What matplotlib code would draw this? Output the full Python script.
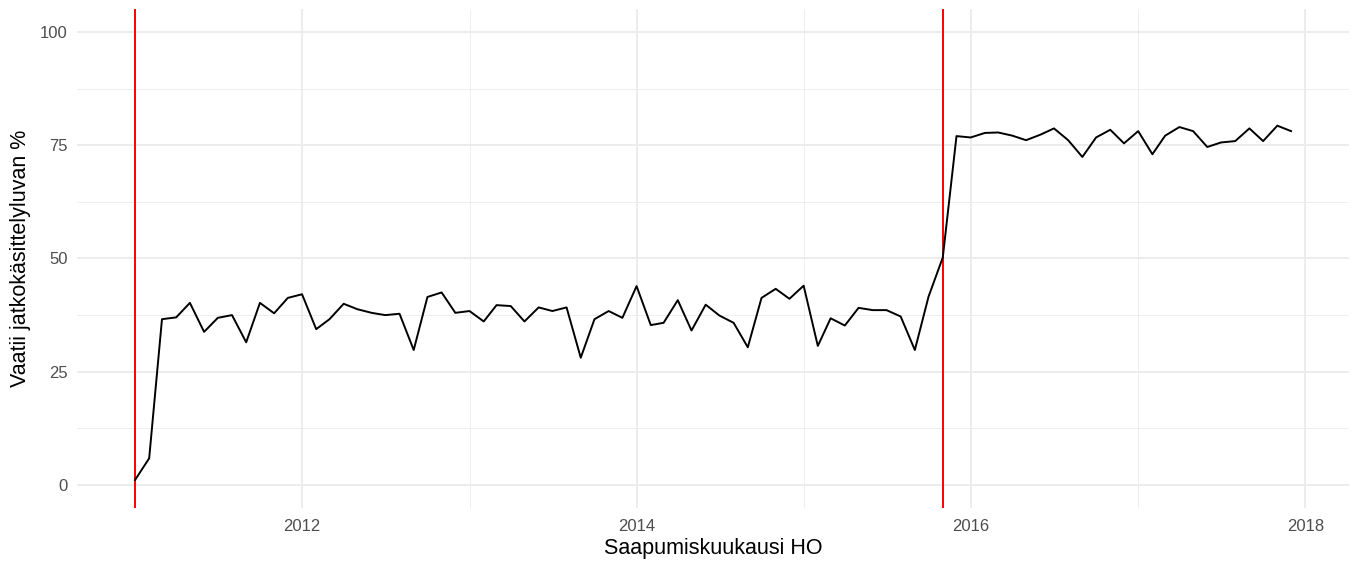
import numpy as np
import pandas as pd
import matplotlib
matplotlib.use('Agg')
import matplotlib.pyplot as plt
import matplotlib.dates as mdates

plt.rcParams['font.family'] = ['Liberation Sans', 'DejaVu Sans']

# kuukausittaiset osuudet 2011-01 ... 2017-12
months = pd.date_range('2011-01-01', '2017-12-01', freq='MS')
share = [
    1.1, 5.9, 36.6, 37.0, 40.2, 33.8, 36.9, 37.5, 31.5, 40.2, 37.9, 41.3,   # 2011
    42.1, 34.4, 36.6, 40.0, 38.8, 38.0, 37.5, 37.8, 29.8, 41.5, 42.5, 38.0,  # 2012
    38.4, 36.1, 39.7, 39.5, 36.1, 39.2, 38.4, 39.2, 28.1, 36.6, 38.4, 36.9,  # 2013
    43.9, 35.3, 35.8, 40.8, 34.1, 39.8, 37.4, 35.8, 30.4, 41.3, 43.3, 41.1,  # 2014
    44.0, 30.7, 36.8, 35.2, 39.1, 38.6, 38.6, 37.2, 29.8, 41.6, 50.2, 77.0,  # 2015
    76.7, 77.7, 77.8, 77.1, 76.1, 77.3, 78.7, 76.1, 72.4, 76.7, 78.4, 75.4,  # 2016
    78.1, 73.0, 77.1, 79.0, 78.1, 74.6, 75.6, 75.9, 78.7, 75.9, 79.3, 78.1,  # 2017
]
cutoffs = ['2011-01-01', '2015-11-01']

y_ticks = [0, 25, 50, 75, 100]
x_ticks = ['2012-01-01', '2014-01-01', '2016-01-01', '2018-01-01']

fig = plt.figure(figsize=(13.54, 5.62), dpi=100)
ax = fig.add_axes([0.057, 0.0966, 0.9392, 0.887])

# taustaruudukko (theme_minimal -tyyli)
for y in [12.5, 37.5, 62.5, 87.5]:
    ax.axhline(y, color='#ebebeb', lw=0.6, zorder=0)
for y in y_ticks:
    ax.axhline(y, color='#ebebeb', lw=1.3, zorder=0)
for d in ['2011-01-01', '2013-01-01', '2015-01-01', '2017-01-01']:
    ax.axvline(pd.Timestamp(d), color='#ebebeb', lw=0.6, zorder=0)
for d in x_ticks:
    ax.axvline(pd.Timestamp(d), color='#ebebeb', lw=1.3, zorder=0)

ax.plot(months, share, color='black', lw=1.4, zorder=3)
for c in cutoffs:
    ax.axvline(pd.Timestamp(c), color='red', lw=1.4, zorder=2)

span = months[-1] - months[0]
ax.set_xlim(months[0] - span * 0.05, months[-1] + span * 0.05)
ax.set_ylim(-5, 105)

ax.set_yticks(y_ticks)
ax.set_xticks([pd.Timestamp(d) for d in x_ticks])
ax.xaxis.set_major_formatter(mdates.DateFormatter('%Y'))
ax.tick_params(length=0, labelsize=12, labelcolor='#4d4d4d')
ax.tick_params(axis='x', pad=8)
ax.tick_params(axis='y', pad=7)
for s in ax.spines.values():
    s.set_visible(False)
ax.grid(False)

ax.set_xlabel('Saapumiskuukausi HO', fontsize=15.5, color='black', labelpad=3)
ax.set_ylabel('Vaatii jatkokäsittelyluvan %', fontsize=15.5, color='black', labelpad=6)

fig.savefig('out.png', dpi=100)
